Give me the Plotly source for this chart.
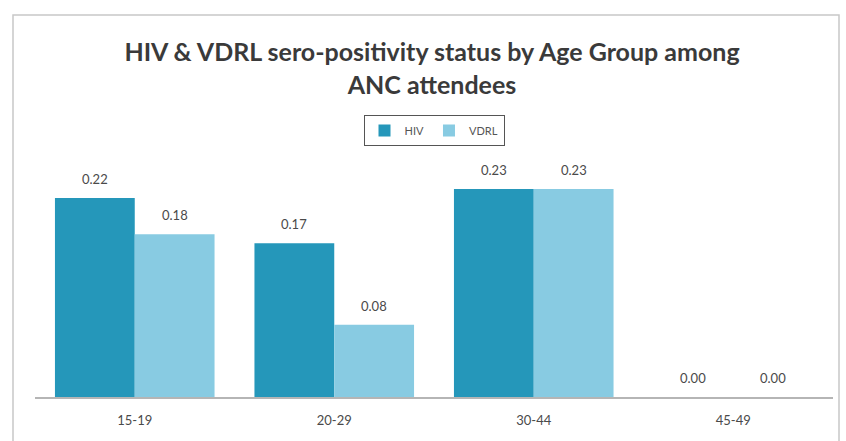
import plotly.graph_objects as go

# Age groups and sero-positivity rates
age_groups = ["15-19", "20-29", "30-44", "45-49"]
hiv = [0.22, 0.17, 0.23, 0.00]
vdrl = [0.18, 0.08, 0.23, 0.00]

W, H = 846, 441
hiv_color = "#2597ba"
vdrl_color = "#88cbe2"
font_family = "Lato, Open Sans, sans-serif"
label_font = dict(family=font_family, size=13, color="#4a4a4a")

fig = go.Figure()
fig.add_trace(go.Bar(
    name="HIV", x=age_groups, y=hiv,
    marker=dict(color=hiv_color, line=dict(width=0)),
))
fig.add_trace(go.Bar(
    name="VDRL", x=age_groups, y=vdrl,
    marker=dict(color=vdrl_color, line=dict(width=0)),
))

# Value labels placed above each bar (HIV left of centre, VDRL right)
annotations = []
for series, shift in ((hiv, -40), (vdrl, 40)):
    for cat, v in zip(age_groups, series):
        annotations.append(dict(
            x=cat, y=v, xref="x", yref="y", text=f"{v:.2f}",
            showarrow=False, xshift=shift, yshift=9, yanchor="bottom",
            font=label_font,
        ))

fig.update_layout(
    width=W, height=H,
    paper_bgcolor="white", plot_bgcolor="white",
    margin=dict(l=35, r=13, t=160, b=44),
    barmode="group", bargap=0.2, bargroupgap=0.0,
    title=dict(
        text="<b>HIV & VDRL sero-positivity status by Age Group among<br>ANC attendees</b>",
        x=0.4975, xanchor="center", xref="paper",
        y=1 - 61 / H, yanchor="middle", yref="container",
        font=dict(family=font_family, size=25, color="#3a3a3a"),
    ),
    legend=dict(
        orientation="h", x=0.5, xanchor="center",
        y=1 - 115 / H, yanchor="top", yref="container",
        bordercolor="#555555", borderwidth=1,
        font=dict(family=font_family, size=11, color="#555555"),
        itemwidth=30,
    ),
    xaxis=dict(
        showline=True, linecolor="#b5b5b5", linewidth=1.5,
        ticks="", showgrid=False, ticklabelstandoff=11,
        tickfont=dict(family=font_family, size=13, color="#4a4a4a"),
    ),
    yaxis=dict(range=[0, 0.262], visible=False, showgrid=False),
    annotations=annotations,
    showlegend=True,
    shapes=[dict(
        type="rect", xref="paper", yref="paper",
        x0=-22 / 798, x1=(839 - 35) / 798,
        y0=-44 / 237 - 0.05, y1=(441 - 15 - 44) / 237,
        line=dict(color="#c8c8c8", width=1.5), fillcolor="rgba(0,0,0,0)",
        layer="below",
    )],
)

fig.write_html("out.html")
